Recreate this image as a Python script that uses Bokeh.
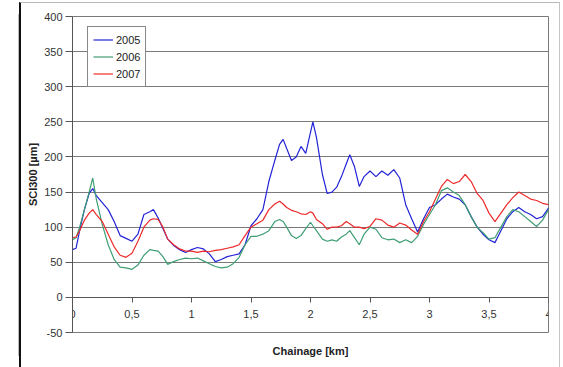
from bokeh.plotting import figure
from bokeh.models import FixedTicker, Legend, LegendItem, Title
from bokeh.embed import file_html
from bokeh.resources import INLINE

km = [0, 0.03, 0.06, 0.1, 0.14, 0.17, 0.2, 0.25, 0.3, 0.35, 0.4, 0.45, 0.5, 0.55, 0.6, 0.65,
      0.68, 0.72, 0.76, 0.8, 0.85, 0.9, 0.95, 1.0, 1.05, 1.1, 1.15, 1.2, 1.25, 1.3, 1.35, 1.4,
      1.45, 1.5, 1.55, 1.6, 1.65, 1.7, 1.74, 1.77, 1.8, 1.84, 1.88, 1.92, 1.96, 2.0, 2.02, 2.05,
      2.1, 2.14, 2.18, 2.22, 2.26, 2.3, 2.33, 2.37, 2.41, 2.45, 2.5, 2.55, 2.6, 2.65, 2.7, 2.75,
      2.8, 2.85, 2.9, 2.95, 3.0, 3.05, 3.1, 3.15, 3.2, 3.25, 3.3, 3.35, 3.4, 3.45, 3.5, 3.55,
      3.6, 3.65, 3.7, 3.75, 3.8, 3.85, 3.9, 3.95, 4.0]

sci_2005 = [68, 70, 95, 125, 148, 155, 145, 135, 125, 108, 88, 84, 80, 90, 118, 122,
            125, 113, 98, 83, 74, 68, 64, 68, 71, 69, 62, 51, 54, 58, 60, 62,
            75, 102, 112, 125, 165, 195, 218, 225, 212, 195, 200, 215, 205, 235, 250, 228,
            175, 148, 150, 157, 172, 190, 203, 186, 158, 172, 180, 172, 180, 174, 182, 170,
            132, 112, 93, 112, 128, 132, 140, 147, 143, 140, 132, 115, 100, 90, 82, 78,
            95, 112, 122, 128, 122, 118, 112, 115, 127]

sci_2006 = [82, 85, 100, 125, 150, 170, 140, 104, 75, 54, 43, 42, 40, 46, 60, 68,
            67, 66, 58, 47, 51, 54, 56, 55, 56, 52, 48, 44, 42, 43, 48, 57,
            75, 87, 87, 90, 95, 108, 111, 108, 100, 88, 84, 88, 98, 107, 102, 95,
            83, 80, 82, 80, 86, 90, 95, 85, 75, 90, 100, 97, 85, 82, 83, 78,
            82, 78, 87, 104, 118, 132, 152, 156, 150, 145, 132, 115, 100, 92, 83, 85,
            100, 115, 125, 122, 115, 108, 101, 110, 125]

sci_2007 = [85, 86, 95, 110, 120, 125, 118, 108, 90, 72, 60, 57, 63, 80, 100, 110,
            112, 111, 100, 83, 75, 69, 66, 66, 64, 66, 65, 67, 68, 70, 72, 75,
            88, 100, 105, 110, 125, 133, 137, 133, 128, 124, 122, 119, 118, 122, 120, 111,
            105, 97, 100, 100, 102, 108, 105, 100, 100, 98, 101, 112, 110, 103, 100, 106,
            103, 96, 90, 108, 122, 140, 158, 168, 162, 165, 175, 165, 148, 138, 120, 108,
            120, 132, 142, 150, 145, 140, 138, 134, 132]

series_names = ["2005", "2006", "2007"]
series_colors = ["#2323d6", "#3f9e74", "#ee2a2a"]

x_ticks = [0, 0.5, 1, 1.5, 2, 2.5, 3, 3.5, 4]
x_tick_labels = ["0", "0,5", "1", "1,5", "2", "2,5", "3", "3,5", "4"]
y_ticks = [-50, 0, 50, 100, 150, 200, 250, 300, 350, 400]
y_tick_labels = ["-50", "0", "50", "100", "150", "200", "250", "300", "350", "400"]

FONT = "Liberation Sans"

p = figure(frame_width=476, frame_height=316, x_range=(0, 4), y_range=(-50, 400),
           output_backend="svg", toolbar_location=None,
           min_border_left=51, min_border_right=11, min_border_top=13, min_border_bottom=28)
p.styles = {"margin-left": "19px", "margin-top": "2px",
            "border-left": "2px solid #111111", "border-top": "1px solid #b8b8b8",
            "border-right": "1px solid #c4c4c4", "border-bottom": "1px solid #c4c4c4",
            "box-shadow": "-13px 0 0 -12px #bbbbbb"}

p.background_fill_color = "white"
p.border_fill_color = "white"
p.outline_line_color = "#7a7a7a"
p.outline_line_width = 1

p.xgrid.grid_line_color = None
p.ygrid.grid_line_color = "#7a7a7a"
p.ygrid.grid_line_width = 1
p.ygrid.ticker = FixedTicker(ticks=y_ticks)

p.xaxis.ticker = FixedTicker(ticks=x_ticks)
p.xaxis.major_label_overrides = {t: l for t, l in zip(x_ticks, x_tick_labels)}
p.xaxis.fixed_location = 0
p.xaxis.axis_line_color = "#555555"
p.xaxis.major_tick_line_color = "#555555"
p.xaxis.major_tick_out = 5
p.xaxis.major_tick_in = 0
p.xaxis.minor_tick_line_color = None
p.xaxis.major_label_text_font = FONT
p.xaxis.major_label_text_font_size = "11px"
p.xaxis.major_label_text_color = "#333333"
p.xaxis.major_label_standoff = 8

p.yaxis.ticker = FixedTicker(ticks=y_ticks)
p.yaxis.major_label_overrides = {t: l for t, l in zip(y_ticks, y_tick_labels)}
p.yaxis.axis_line_color = "#555555"
p.yaxis.major_tick_line_color = "#555555"
p.yaxis.major_tick_out = 7
p.yaxis.major_tick_in = 0
p.yaxis.minor_tick_line_color = None
p.yaxis.major_label_text_font = FONT
p.yaxis.major_label_text_font_size = "11px"
p.yaxis.major_label_text_color = "#333333"
p.yaxis.major_label_standoff = 3
p.yaxis.axis_label = "SCI300 [µm]"
p.yaxis.axis_label_text_font = FONT
p.yaxis.axis_label_text_font_size = "11px"
p.yaxis.axis_label_text_font_style = "bold"
p.yaxis.axis_label_text_color = "#222222"
p.yaxis.axis_label_standoff = 2

p.add_layout(Title(text="Chainage [km]", align="center", text_font=FONT,
                   text_font_size="11px", text_font_style="bold",
                   text_color="#222222", standoff=21), "below")

items = []
for name, color, vals in zip(series_names, series_colors, [sci_2005, sci_2006, sci_2007]):
    r = p.line(km, vals, line_color=color, line_width=1.2)
    items.append(LegendItem(label=name, renderers=[r]))

legend = Legend(items=items, location=(15, 245), orientation="vertical",
                label_text_font=FONT, label_text_font_size="11px", label_text_color="#222222",
                glyph_width=20, glyph_height=15, label_height=15, spacing=2,
                padding=5, margin=0, border_line_color="#111111", border_line_width=1,
                background_fill_color="white", background_fill_alpha=1.0,
                label_standoff=3)
p.add_layout(legend)

open("out.html", "w").write(file_html(p, INLINE))
